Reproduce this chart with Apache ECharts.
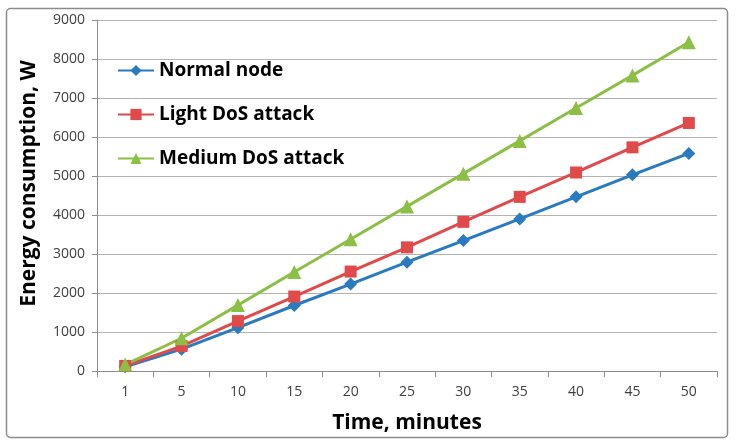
<!DOCTYPE html>
<html><head><meta charset="utf-8">
<script src="https://cdn.jsdelivr.net/npm/echarts@6/dist/echarts.min.js"></script>
<style>html,body{margin:0;padding:0;background:#fff}#c{width:736px;height:446px}</style>
</head><body><div id="c"></div>
<script>
var categories = ['1','5','10','15','20','25','30','35','40','45','50'];
var normalNode = [110, 560, 1110, 1680, 2230, 2790, 3345, 3900, 4465, 5030, 5580];
var lightDoS   = [130, 640, 1280, 1910, 2550, 3170, 3825, 4465, 5090, 5735, 6360];
var mediumDoS  = [165, 840, 1690, 2540, 3380, 4220, 5060, 5900, 6745, 7580, 8430];
var seriesNames = ['Normal node', 'Light DoS attack', 'Medium DoS attack'];

var chart = echarts.init(document.getElementById('c'));
var FONT = '"Open Sans", "Liberation Sans", sans-serif';
chart.setOption({
  animation: false,
  graphic: [{
    type: 'rect', shape: {x: 6.5, y: 8.5, width: 721, height: 429, r: 4},
    style: {fill: 'none', stroke: '#8c8c8c', lineWidth: 1.5}, z: -1
  }],
  grid: {left: 97, right: 19, top: 20, bottom: 75},
  legend: {
    orient: 'vertical', left: 112, top: 56, itemGap: 25,
    itemWidth: 36, itemHeight: 14,
    textStyle: {fontFamily: FONT, fontWeight: 'bold', fontSize: 19, color: '#000'},
    data: seriesNames
  },
  xAxis: {
    type: 'category', data: categories, boundaryGap: true,
    name: 'Time, minutes', nameLocation: 'middle', nameGap: 42,
    nameTextStyle: {fontFamily: FONT, fontWeight: 'bold', fontSize: 21, color: '#000'},
    axisLine: {lineStyle: {color: '#8c8c8c', width: 1}},
    axisTick: {show: true, length: 6, lineStyle: {color: '#8c8c8c'}},
    axisLabel: {fontFamily: FONT, fontSize: 14, color: '#404040', margin: 14}
  },
  yAxis: {
    type: 'value', min: 0, max: 9000, interval: 1000,
    name: 'Energy consumption, W', nameLocation: 'middle', nameGap: 57,
    nameTextStyle: {fontFamily: FONT, fontWeight: 'bold', fontSize: 21, color: '#000',
      padding: [0, 0, 0, 24]},
    axisLine: {show: true, lineStyle: {color: '#8c8c8c', width: 1}},
    axisTick: {show: true, length: 5, lineStyle: {color: '#8c8c8c'}},
    axisLabel: {fontFamily: FONT, fontSize: 14, color: '#404040', margin: 12,
      formatter: function (v) { return String(v); }},
    splitLine: {lineStyle: {color: '#b3b3b3', width: 1}}
  },
  series: [
    {name: seriesNames[0], type: 'line', data: normalNode, symbol: 'diamond', symbolSize: 13,
     lineStyle: {width: 3, color: '#2a7ac0'}, itemStyle: {color: '#2a7ac0'}},
    {name: seriesNames[1], type: 'line', data: lightDoS, symbol: 'rect', symbolSize: 12,
     lineStyle: {width: 3, color: '#e04a4a'}, itemStyle: {color: '#e04a4a'}},
    {name: seriesNames[2], type: 'line', data: mediumDoS, symbol: 'triangle', symbolSize: 14,
     lineStyle: {width: 3, color: '#8cbf45'}, itemStyle: {color: '#8cbf45'}}
  ]
});
</script></body></html>
